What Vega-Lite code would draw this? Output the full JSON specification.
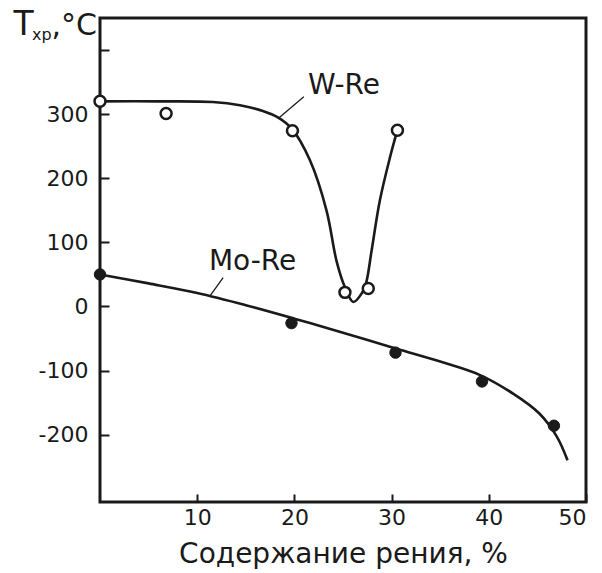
{
  "$schema": "https://vega.github.io/schema/vega-lite/v6.json",
  "width": 486,
  "height": 484,
  "autosize": {"type": "none"},
  "padding": {"left": 100, "top": 18, "right": 16, "bottom": 71},
  "background": "white",
  "config": {
    "view": {"stroke": "#1a1a1a", "strokeWidth": 3},
    "font": "DejaVu Sans",
    "axis": {
      "domain": false,
      "grid": false,
      "tickColor": "#1a1a1a",
      "tickWidth": 2,
      "labelColor": "#1a1a1a",
      "labelFont": "DejaVu Sans",
      "labelFontSize": 22,
      "titleFont": "DejaVu Sans",
      "titleColor": "#1a1a1a",
      "titleFontWeight": "normal"
    }
  },
  "datasets": {
    "wcurve": [
      {"x": 0, "y": 320}, {"x": 6, "y": 320}, {"x": 11.6, "y": 319}, {"x": 14.4, "y": 314},
      {"x": 16.75, "y": 305}, {"x": 18.3, "y": 295}, {"x": 19.75, "y": 277}, {"x": 21.6, "y": 228},
      {"x": 23.3, "y": 150}, {"x": 24.35, "y": 70}, {"x": 25.2, "y": 30},
      {"x": 26.06, "y": 7}, {"x": 26.95, "y": 21}, {"x": 27.4, "y": 38},
      {"x": 27.93, "y": 86}, {"x": 28.8, "y": 166},
      {"x": 29.84, "y": 233}, {"x": 30.5, "y": 270}
    ],
    "mocurve": [
      {"x": 0, "y": 50}, {"x": 5, "y": 36}, {"x": 10, "y": 21}, {"x": 15, "y": 2},
      {"x": 20, "y": -19}, {"x": 25, "y": -41}, {"x": 30.5, "y": -66}, {"x": 35, "y": -86},
      {"x": 39.1, "y": -107}, {"x": 42.5, "y": -136}, {"x": 45.2, "y": -167}, {"x": 47, "y": -203},
      {"x": 48.1, "y": -240}
    ],
    "wpts": [
      {"x": 0, "y": 320}, {"x": 6.8, "y": 301}, {"x": 19.8, "y": 274},
      {"x": 25.2, "y": 22}, {"x": 27.6, "y": 28}, {"x": 30.6, "y": 275}
    ],
    "mopts": [
      {"x": 0, "y": 50}, {"x": 19.7, "y": -26}, {"x": 30.4, "y": -72},
      {"x": 39.3, "y": -117}, {"x": 46.7, "y": -186}
    ],
    "leaders": [
      {"x": 20.97, "y": 327, "x2": 18.3, "y2": 293},
      {"x": 12.67, "y": 45, "x2": 11.3, "y2": 16}
    ],
    "labels": [
      {"x": 25.1, "y": 331, "text": "W-Re"},
      {"x": 15.7, "y": 57, "text": "Mo-Re"}
    ],
    "ytitle": [
      {"x": -8.9, "y": 424, "text": "T", "size": 33},
      {"x": -7.0, "y": 416, "text": "xp", "size": 16},
      {"x": -5.0, "y": 424, "text": ",°C", "size": 30}
    ]
  },
  "layer": [
    {
      "data": {"name": "wcurve"},
      "mark": {"type": "line", "interpolate": "catmull-rom", "color": "#1a1a1a", "strokeWidth": 2.6},
      "encoding": {
        "x": {
          "field": "x", "type": "quantitative",
          "scale": {"domain": [0, 50], "nice": false, "zero": false},
          "axis": {
            "values": [10, 20, 30, 40, 50],
            "offset": -8,
            "tickSize": 8,
            "labelPadding": 5,
            "title": "Содержание рения, %",
            "titleFontSize": 28,
            "titlePadding": 12
          }
        },
        "y": {
          "field": "y", "type": "quantitative",
          "scale": {"domain": [-305, 450], "nice": false, "zero": false},
          "axis": {
            "values": [-200, -100, 0, 100, 200, 300, 400],
            "offset": -9,
            "tickSize": 9,
            "labelPadding": 12,
            "labelExpr": "datum.value == 400 ? '' : replace(datum.label, '−', '-')",
            "title": null
          }
        }
      }
    },
    {
      "data": {"name": "mocurve"},
      "mark": {"type": "line", "interpolate": "catmull-rom", "color": "#1a1a1a", "strokeWidth": 2.6},
      "encoding": {
        "x": {"field": "x", "type": "quantitative"},
        "y": {"field": "y", "type": "quantitative"}
      }
    },
    {
      "data": {"name": "leaders"},
      "mark": {"type": "rule", "color": "#1a1a1a", "strokeWidth": 1.3},
      "encoding": {
        "x": {"field": "x", "type": "quantitative"},
        "y": {"field": "y", "type": "quantitative"},
        "x2": {"field": "x2"},
        "y2": {"field": "y2"}
      }
    },
    {
      "data": {"name": "wpts"},
      "mark": {"type": "point", "shape": "circle", "filled": true, "fill": "white", "stroke": "#1a1a1a", "strokeWidth": 2.5, "size": 120, "opacity": 1},
      "encoding": {
        "x": {"field": "x", "type": "quantitative"},
        "y": {"field": "y", "type": "quantitative"}
      }
    },
    {
      "data": {"name": "mopts"},
      "mark": {"type": "point", "shape": "circle", "filled": true, "fill": "#1a1a1a", "stroke": "#1a1a1a", "strokeWidth": 1, "size": 130, "opacity": 1},
      "encoding": {
        "x": {"field": "x", "type": "quantitative"},
        "y": {"field": "y", "type": "quantitative"}
      }
    },
    {
      "data": {"name": "labels"},
      "mark": {"type": "text", "font": "DejaVu Sans", "fontSize": 28, "color": "#1a1a1a", "align": "center", "baseline": "alphabetic"},
      "encoding": {
        "x": {"field": "x", "type": "quantitative"},
        "y": {"field": "y", "type": "quantitative"},
        "text": {"field": "text"}
      }
    },
    {
      "data": {"name": "ytitle"},
      "mark": {"type": "text", "font": "DejaVu Sans", "color": "#1a1a1a", "align": "left", "baseline": "alphabetic"},
      "encoding": {
        "x": {"field": "x", "type": "quantitative"},
        "y": {"field": "y", "type": "quantitative"},
        "text": {"field": "text"},
        "size": {"field": "size", "type": "quantitative", "scale": null, "legend": null}
      }
    }
  ]
}
